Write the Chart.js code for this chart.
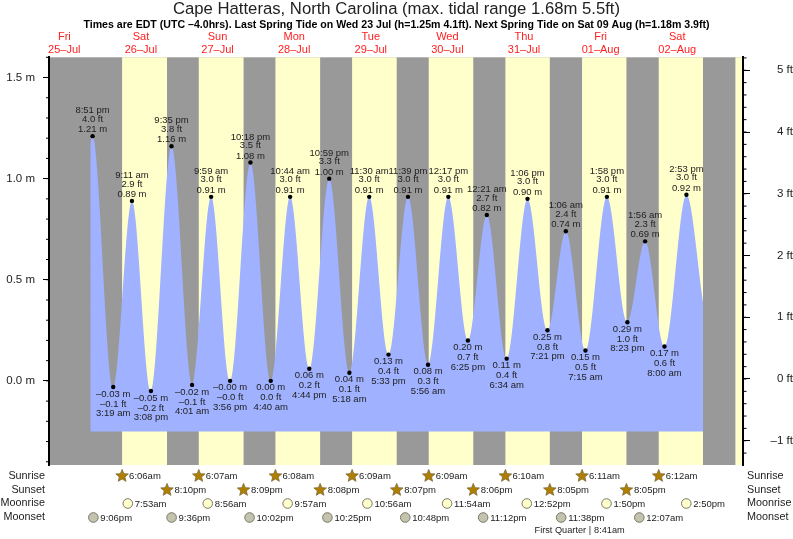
<!DOCTYPE html>
<html>
<head>
<meta charset="utf-8">
<title>Cape Hatteras tides</title>
<script src="https://cdn.jsdelivr.net/npm/chart.js@4"></script>
<style>
html, body { margin: 0; padding: 0; background: #fff; }
canvas { display: block; filter: blur(0.4px); }
</style>
</head>
<body>
<canvas id="tides" width="793" height="539"></canvas>
<script>
const titleText = "Cape Hatteras, North Carolina (max. tidal range 1.68m 5.5ft)";
const subtitleText = "Times are EDT (UTC –4.0hrs). Last Spring Tide on Wed 23 Jul (h=1.25m 4.1ft). Next Spring Tide on Sat 09 Aug (h=1.18m 3.9ft)";

const dayNames = ["Fri", "Sat", "Sun", "Mon", "Tue", "Wed", "Thu", "Fri", "Sat"];
const dayDates = ["25–Jul", "26–Jul", "27–Jul", "28–Jul", "29–Jul", "30–Jul", "31–Jul", "01–Aug", "02–Aug"];

// highs and lows, in time order
const tideTimes = [
	"Jul 25 8:51 pm", "Jul 26 3:19 am", "Jul 26 9:11 am", "Jul 26 3:08 pm", "Jul 26 9:35 pm",
	"Jul 27 4:01 am", "Jul 27 9:59 am", "Jul 27 3:56 pm", "Jul 27 10:18 pm",
	"Jul 28 4:40 am", "Jul 28 10:44 am", "Jul 28 4:44 pm", "Jul 28 10:59 pm",
	"Jul 29 5:18 am", "Jul 29 11:30 am", "Jul 29 5:33 pm", "Jul 29 11:39 pm",
	"Jul 30 5:56 am", "Jul 30 12:17 pm", "Jul 30 6:25 pm",
	"Jul 31 12:21 am", "Jul 31 6:34 am", "Jul 31 1:06 pm", "Jul 31 7:21 pm",
	"Aug 1 1:06 am", "Aug 1 7:15 am", "Aug 1 1:58 pm", "Aug 1 8:23 pm",
	"Aug 2 1:56 am", "Aug 2 8:00 am", "Aug 2 2:53 pm",
];
const tideMetres = [
	"1.21", "–0.03", "0.89", "–0.05", "1.16",
	"–0.02", "0.91", "–0.00", "1.08",
	"0.00", "0.91", "0.06", "1.00",
	"0.04", "0.91", "0.13", "0.91",
	"0.08", "0.91", "0.20",
	"0.82", "0.11", "0.90", "0.25",
	"0.74", "0.15", "0.91", "0.29",
	"0.69", "0.17", "0.92",
];
const tideFeet = [
	"4.0", "–0.1", "2.9", "–0.2", "3.8",
	"–0.1", "3.0", "–0.0", "3.5",
	"0.0", "3.0", "0.2", "3.3",
	"0.1", "3.0", "0.4", "3.0",
	"0.3", "3.0", "0.7",
	"2.7", "0.4", "3.0", "0.8",
	"2.4", "0.5", "3.0", "1.0",
	"2.3", "0.6", "3.0",
];
// the curve is cut off at these two ends, values estimated
const tideStart = { time: "Jul 25 8:08 pm", metres: 1.17 };
const tideEnd = { time: "Aug 2 8:04 pm", metres: 0.39 };
const tideBase = -0.25;

const sunrises = ["Jul 26 6:06am", "Jul 27 6:07am", "Jul 28 6:08am", "Jul 29 6:09am", "Jul 30 6:09am", "Jul 31 6:10am", "Aug 1 6:11am", "Aug 2 6:12am"];
const sunsets = ["Jul 26 8:10pm", "Jul 27 8:09pm", "Jul 28 8:08pm", "Jul 29 8:07pm", "Jul 30 8:06pm", "Jul 31 8:05pm", "Aug 1 8:05pm"];
const moonrises = ["Jul 26 7:53am", "Jul 27 8:56am", "Jul 28 9:57am", "Jul 29 10:56am", "Jul 30 11:54am", "Jul 31 12:52pm", "Aug 1 1:50pm", "Aug 2 2:50pm"];
const moonsets = ["Jul 25 9:06pm", "Jul 26 9:36pm", "Jul 27 10:02pm", "Jul 28 10:25pm", "Jul 29 10:48pm", "Jul 30 11:12pm", "Jul 31 11:38pm", "Aug 2 12:07am"];
const lastSunset = "Aug 2 8:04pm";
const nextSunrise = "Aug 3 6:13am";
const moonPhase = { name: "First Quarter", time: "Aug 1 8:41am" };

const metreTicks = [0, 0.5, 1, 1.5];
const feetTicks = [-1, 0, 1, 2, 3, 4, 5];

const FONT = "'Liberation Sans', Arial, sans-serif";
const NIGHT = "#999999";
const DAY = "#ffffcc";
const WATER = "#9fb1ff";
const TEXT = "#222222";

// hours since Jul 25 00:00
function hours(str) {
	const m = str.match(/(Jul|Aug) (\d+) (\d+):(\d+) ?(am|pm)/);
	const day = (m[1] === "Aug" ? 31 : 0) + Number(m[2]) - 25;
	const hour = (Number(m[3]) % 12) + (m[5] === "pm" ? 12 : 0);
	return day * 24 + hour + Number(m[4]) / 60;
}
const clockOf = (str) => str.replace(/^\w+ \d+ /, "");

const tidePoints = [
	{ x: hours(tideStart.time), y: tideStart.metres },
	...tideTimes.map((t, i) => ({ x: hours(t), y: Number(tideMetres[i].replace("–", "-")) })),
	{ x: hours(tideEnd.time), y: tideEnd.metres },
];

function drawStar(ctx, x, y) {
	ctx.beginPath();
	for (let i = 0; i < 10; i++) {
		const r = i % 2 ? 2.9 : 6.6;
		const a = -Math.PI / 2 + (i * Math.PI) / 5;
		ctx.lineTo(x + r * Math.cos(a), y + r * Math.sin(a));
	}
	ctx.closePath();
	ctx.fillStyle = "#b07f00";
	ctx.strokeStyle = "#7d6a3a";
	ctx.lineWidth = 0.8;
	ctx.fill();
	ctx.stroke();
}

function drawMoon(ctx, x, y, fill) {
	ctx.beginPath();
	ctx.arc(x, y, 4.8, 0, Math.PI * 2);
	ctx.fillStyle = fill;
	ctx.strokeStyle = "#777766";
	ctx.lineWidth = 1;
	ctx.fill();
	ctx.stroke();
}

const bandsPlugin = {
	id: "bands",
	beforeDraw(chart) {
		const { ctx, chartArea: a, scales } = chart;
		const px = (t) => scales.x.getPixelForValue(hours(t));
		const ends = [...sunsets, lastSunset];
		ctx.save();
		ctx.fillStyle = NIGHT;
		ctx.fillRect(a.left, a.top, a.width, a.height);
		ctx.fillStyle = DAY;
		sunrises.forEach((rise, i) => {
			ctx.fillRect(px(rise), a.top, px(ends[i]) - px(rise), a.height);
		});
		ctx.fillRect(px(nextSunrise), a.top, a.right - px(nextSunrise), a.height);
		ctx.restore();
	},
};

const labelsPlugin = {
	id: "tideLabels",
	afterDatasetsDraw(chart) {
		const { ctx, scales } = chart;
		ctx.save();
		ctx.font = `9.5px ${FONT}`;
		ctx.fillStyle = TEXT;
		ctx.textAlign = "center";
		ctx.textBaseline = "middle";
		tideTimes.forEach((t, i) => {
			const v = Number(tideMetres[i].replace("–", "-"));
			const x = scales.x.getPixelForValue(hours(t));
			const y = scales.y.getPixelForValue(v);
			// highs are labelled above the point, lows below it
			const high = i % 2 === 0;
			const lines = [`${tideMetres[i]} m`, `${tideFeet[i]} ft`, clockOf(t)];
			const offsets = high ? [-6.5, -17, -25.5] : [7, 17, 26.5];
			lines.forEach((line, j) => ctx.fillText(line, x, y + offsets[j]));
		});
		ctx.restore();
	},
};

const rowsPlugin = {
	id: "almanacRows",
	afterDraw(chart) {
		const { ctx, chartArea: a, scales } = chart;
		const rows = [
			{ name: "Sunrise", y: 476, times: sunrises, icon: drawStar, gap: 7 },
			{ name: "Sunset", y: 490, times: sunsets, icon: drawStar, gap: 7.5 },
			{ name: "Moonrise", y: 503.5, times: moonrises, icon: (c, x, y) => drawMoon(c, x, y, "#ffffcc"), gap: 7 },
			{ name: "Moonset", y: 517.5, times: moonsets, icon: (c, x, y) => drawMoon(c, x, y, "#c4c4ae"), gap: 7 },
		];
		ctx.save();
		ctx.textBaseline = "middle";
		rows.forEach((row) => {
			ctx.font = `10.8px ${FONT}`;
			ctx.fillStyle = TEXT;
			ctx.textAlign = "right";
			ctx.fillText(row.name, a.left - 4, row.y);
			ctx.textAlign = "left";
			ctx.fillText(row.name, a.right + 4, row.y);
			ctx.font = `9.5px ${FONT}`;
			row.times.forEach((t) => {
				const x = scales.x.getPixelForValue(hours(t));
				row.icon(ctx, x, row.y);
				ctx.fillStyle = TEXT;
				ctx.fillText(clockOf(t), x + row.gap, row.y + 0.5);
			});
		});
		const px = scales.x.getPixelForValue(hours(moonPhase.time));
		ctx.font = `9.2px ${FONT}`;
		ctx.fillStyle = TEXT;
		ctx.textAlign = "right";
		ctx.fillText(`${moonPhase.name} |`, px + 1, 530.5);
		ctx.textAlign = "left";
		ctx.fillText(clockOf(moonPhase.time), px + 4, 530.5);
		ctx.restore();
	},
};

// minor ticks have their own length, which the axis options cannot do
const minorTicksPlugin = {
	id: "minorTicks",
	afterDraw(chart) {
		const { ctx, chartArea: a, scales } = chart;
		ctx.save();
		ctx.strokeStyle = "#000";
		ctx.lineWidth = 1;
		ctx.beginPath();
		for (let i = -4; i <= 16; i++) {
			const y = scales.y.getPixelForValue(i / 10);
			ctx.moveTo(a.left, y);
			ctx.lineTo(a.left - 3, y);
		}
		for (let i = -6; i <= 26; i++) {
			const y = scales.yFeet.getPixelForValue(i / 5);
			ctx.moveTo(a.right, y);
			ctx.lineTo(a.right + 3.5, y);
		}
		ctx.stroke();
		ctx.restore();
	},
};

new Chart(document.getElementById("tides"), {
	type: "line",
	plugins: [bandsPlugin, labelsPlugin, rowsPlugin, minorTicksPlugin],
	data: {
		datasets: [
			{
				label: "Tide height",
				data: tidePoints,
				yAxisID: "y",
				cubicInterpolationMode: "monotone",
				borderWidth: 0,
				borderColor: WATER,
				backgroundColor: WATER,
				fill: { value: tideBase },
				pointRadius: (c) => (c.dataIndex === 0 || c.dataIndex === tidePoints.length - 1 ? 0 : 2.2),
				pointBackgroundColor: "#000",
				pointBorderWidth: 0,
			},
		],
	},
	options: {
		responsive: false,
		animation: false,
		devicePixelRatio: 1,
		layout: { padding: { bottom: 74 } },
		plugins: {
			legend: { display: false },
			tooltip: { enabled: false },
			title: {
				display: true,
				text: titleText,
				color: TEXT,
				font: { family: FONT, size: 16.7, weight: "normal", lineHeight: 1 },
				padding: { top: 1, bottom: 1 },
			},
			subtitle: {
				display: true,
				text: subtitleText,
				color: "#000",
				font: { family: FONT, size: 10.6, weight: "bold", lineHeight: 1 },
				padding: { top: 1, bottom: 0 },
			},
		},
		scales: {
			x: {
				type: "linear",
				position: "top",
				min: 7.2,
				max: 224.6,
				afterFit: (s) => { s.height = 27; },
				afterBuildTicks: (s) => { s.ticks = dayNames.map((_, i) => ({ value: i * 24 + 12 })); },
				grid: { display: false, drawTicks: false },
				border: { display: false },
				ticks: {
					autoSkip: false,
					maxRotation: 0,
					padding: 1,
					color: "#ff2020",
					font: { family: FONT, size: 11, lineHeight: 1.15 },
					callback: (v) => {
						const i = Math.round((v - 12) / 24);
						return [dayNames[i], dayDates[i]];
					},
				},
			},
			y: {
				type: "linear",
				position: "left",
				min: -0.416,
				max: 1.6,
				afterFit: (s) => { s.width = 49; },
				afterBuildTicks: (s) => { s.ticks = metreTicks.map((v) => ({ value: v })); },
				grid: { drawOnChartArea: false, tickLength: 6, tickColor: "#000", tickWidth: 1 },
				border: { display: true, color: "#000", width: 2 },
				ticks: {
					padding: 8,
					color: TEXT,
					font: { family: FONT, size: 11.5 },
					callback: (v) => `${v.toFixed(1)} m`,
				},
			},
			yFeet: {
				type: "linear",
				position: "right",
				min: -1.393,
				max: 5.21,
				afterFit: (s) => { s.width = 50; },
				afterBuildTicks: (s) => { s.ticks = feetTicks.map((v) => ({ value: v })); },
				grid: { drawOnChartArea: false, tickLength: 7, tickColor: "#000", tickWidth: 1 },
				border: { display: true, color: "#000", width: 2 },
				ticks: {
					padding: 7,
					color: TEXT,
					crossAlign: "far",
					font: { family: FONT, size: 11.5 },
					callback: (v) => `${v < 0 ? "–" + Math.abs(v) : v} ft`,
				},
			},
		},
	},
});
</script>
</body>
</html>
